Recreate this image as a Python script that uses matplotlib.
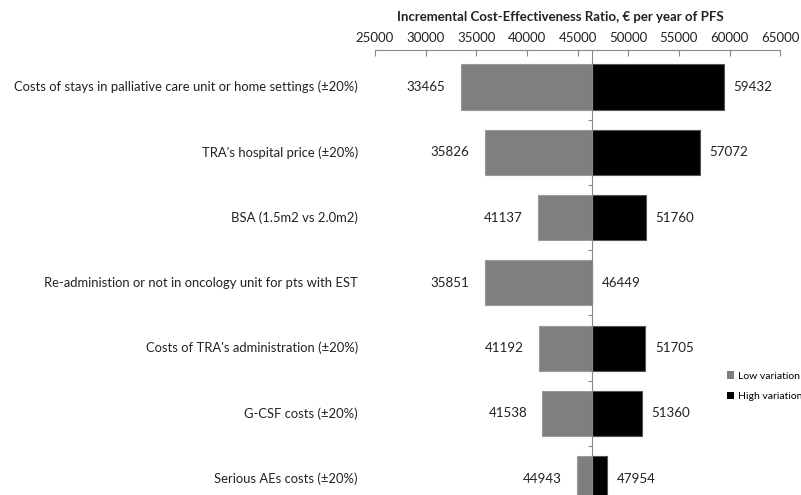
import matplotlib
matplotlib.use("Agg")
import matplotlib.pyplot as plt
from matplotlib.patches import Patch

# Werte aus der Grafik
categories = [
    "Costs of stays in palliative care unit or home settings (\u00b120%)",
    "TRA's hospital price (\u00b120%)",
    "BSA (1.5m2 vs 2.0m2)",
    "Re-administion or not in oncology unit for pts with EST",
    "Costs of TRA's administration (\u00b120%)",
    "G-CSF costs (\u00b120%)",
    "Serious AEs costs (\u00b120%)",
]
low_values = [33465, 35826, 41137, 35851, 41192, 41538, 44943]
high_values = [59432, 57072, 51760, 46449, 51705, 51360, 47954]
base_icer = 46449
x_ticks = [25000, 30000, 35000, 40000, 45000, 50000, 55000, 60000, 65000]

plt.rcParams['font.family'] = ['Lato', 'DejaVu Sans']

fig = plt.figure(figsize=(8.01, 4.95), dpi=100)
ax = fig.add_axes([0.468, 0.0, 0.506, 0.899])

ypos = list(range(len(categories)))
low_w = [v - base_icer for v in low_values]
high_w = [v - base_icer for v in high_values]

ax.barh(ypos, low_w, left=base_icer, height=0.69, color='#7f7f7f',
        edgecolor='#9a9a9a', linewidth=0.8, zorder=2)
ax.barh(ypos, high_w, left=base_icer, height=0.69, color='black',
        edgecolor='#555555', linewidth=0.8, zorder=2)

# Beschriftung der Balken
for y, lo, hi in zip(ypos, low_values, high_values):
    ax.annotate(str(lo), (lo, y), xytext=(-11, 0), textcoords='offset points',
                ha='right', va='center', fontsize=9.6, color='#222222')
    ax.annotate(str(hi), (hi, y), xytext=(7, 0), textcoords='offset points',
                ha='left', va='center', fontsize=9.6, color='#222222')

# Kategorien links
for y, name in zip(ypos, categories):
    ax.text(-0.042, y, name, transform=ax.get_yaxis_transform(),
            ha='right', va='center', fontsize=9.4, color='#222222')

ax.set_xlim(25000, 65000)
ax.set_ylim(6.25, -0.567)
ax.set_xticks(x_ticks)
ax.xaxis.tick_top()
ax.tick_params(axis='x', direction='in', length=4, color='#888888',
               labelsize=9.5, labelcolor='#222222', pad=4)
ax.set_xlabel('Incremental Cost-Effectiveness Ratio, \u20ac per year of PFS',
              fontsize=9.5, fontweight='bold', color='#222222')
ax.xaxis.set_label_position('top')
ax.xaxis.set_label_coords(0.457, 1.066)

# Vertikale Achse im Basiswert
ax.spines['left'].set_position(('data', base_icer))
ax.spines['left'].set_color('#888888')
ax.spines['left'].set_zorder(3)
ax.spines['top'].set_color('#888888')
ax.spines['right'].set_visible(False)
ax.spines['bottom'].set_visible(False)
ax.set_yticks([i + 0.5 for i in range(len(categories) - 1)])
ax.set_yticklabels([])
ax.tick_params(axis='y', direction='out', length=3, color='#888888')

handles = [Patch(facecolor='#7f7f7f', label='Low variation'),
           Patch(facecolor='black', label='High variation')]
fig.legend(handles=handles, loc='upper left', bbox_to_anchor=(0.902, 0.258),
           frameon=False, fontsize=7.5, handlelength=0.7, handleheight=0.7,
           handletextpad=0.4, labelspacing=1.1, borderaxespad=0)

fig.savefig('out.png', dpi=100)
